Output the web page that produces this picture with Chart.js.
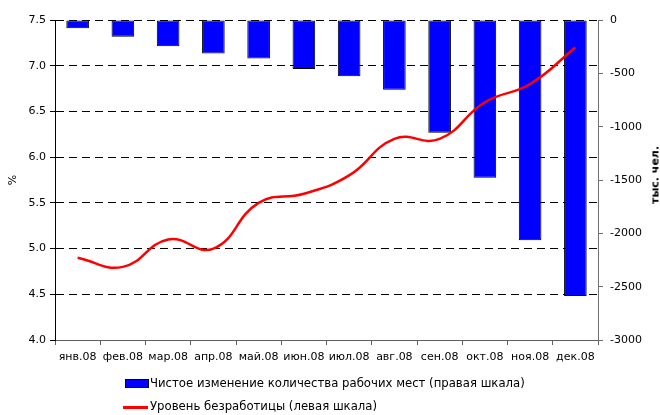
<!DOCTYPE html>
<html><head><meta charset="utf-8">
<script src="https://cdn.jsdelivr.net/npm/chart.js@4/dist/chart.umd.min.js"></script>
<style>
html,body{margin:0;padding:0;background:#fff;}
#wrap{position:relative;width:660px;height:415px;overflow:hidden;}
canvas{position:absolute;left:0;top:0;}
.txt{position:absolute;font-family:"DejaVu Sans",Arial,sans-serif;font-size:11px;color:#000;white-space:nowrap;line-height:13px;}
.lgt{font-size:11.7px;}
#ytitle2{font-weight:bold;left:655px;top:175px;transform:translate(-50%,-50%) rotate(-90deg);}
</style></head><body>
<div id="wrap">
<canvas id="c" width="660" height="415"></canvas>
<div id="ytitle2" class="txt">тыс. чел.</div>
<div id="legend"></div>
</div>
<script>
const categories = ['янв.08','фев.08','мар.08','апр.08','май.08','июн.08','июл.08','авг.08','сен.08','окт.08','ноя.08','дек.08'];
const unemploymentRate = [4.9, 4.8, 5.1, 5.0, 5.5, 5.6, 5.8, 6.2, 6.2, 6.6, 6.8, 7.2];
const netJobChange = [-77, -158, -247, -313, -360, -460, -527, -653, -1056, -1480, -2066, -2587];
const barLabel = 'Чистое изменение количества рабочих мест (правая шкала)';
const lineLabel = 'Уровень безработицы (левая шкала)';
const leftTitle = '%';
const leftTicks = {min: 4.0, max: 7.5, step: 0.5};
const rightTicks = {min: -3000, max: 0, step: 500};

const FONT = {family: '"DejaVu Sans", Arial, sans-serif', size: 11};

const chart = new Chart(document.getElementById('c'), {
  type: 'bar',
  data: {
    labels: categories,
    datasets: [
      {
        type: 'bar', label: barLabel, data: netJobChange, yAxisID: 'y1', order: 2,
        backgroundColor: '#0000FF', borderColor: '#000000', borderWidth: 1, borderSkipped: false,
        categoryPercentage: 1.0, barPercentage: 0.5
      },
      {
        type: 'line', label: lineLabel, data: unemploymentRate, yAxisID: 'y', order: 1,
        borderColor: '#FF0000', borderWidth: 2.5, pointRadius: 0, tension: 0.45, fill: false
      }
    ]
  },
  options: {
    responsive: false, animation: false,
    layout: {padding: {top: 20, left: 0, right: 0, bottom: 0}},
    plugins: {legend: {display: false}, tooltip: {enabled: false}},
    scales: {
      x: {
        position: 'bottom', offset: true,
        grid: {offset: true, drawOnChartArea: false, drawTicks: true, tickLength: 5, tickColor: '#606060', tickWidth: 1},
        border: {display: true, color: '#606060', width: 1},
        ticks: {font: FONT, color: '#000', padding: 6, maxRotation: 0, autoSkip: false},
        afterFit(s) { s.height = 75; }
      },
      y: {
        position: 'left', min: leftTicks.min, max: leftTicks.max,
        grid: {drawOnChartArea: true, color: '#000', lineWidth: 1, drawTicks: true, tickLength: 5, tickColor: '#000', tickBorderDash: []},
        border: {display: true, color: '#000', width: 1, dash: [8, 5]},
        ticks: {stepSize: leftTicks.step, font: FONT, color: '#000', padding: 4, callback: v => Number(v).toFixed(1)},
        title: {display: true, text: leftTitle, font: FONT, color: '#000', padding: {top: 7, bottom: 0}},
        afterFit(s) { s.width = 55; }
      },
      y1: {
        position: 'right', min: rightTicks.min, max: rightTicks.max,
        grid: {drawOnChartArea: false, drawTicks: true, tickLength: 5, tickColor: '#707070'},
        border: {display: true, color: '#707070', width: 1},
        ticks: {stepSize: rightTicks.step, font: FONT, color: '#000', padding: 7, callback: v => String(v)},
        afterFit(s) { s.width = 62; }
      }
    }
  }
});

// HTML legend built from the datasets
const lg = document.getElementById('legend');
chart.data.datasets.forEach((ds, i) => {
  const top = i === 0 ? 377 : 400;
  const sw = document.createElement('div');
  sw.style.position = 'absolute';
  if (ds.type === 'bar') {
    sw.style.left = '125px'; sw.style.top = (top + 2) + 'px';
    sw.style.width = '22px'; sw.style.height = '7px';
    sw.style.background = ds.backgroundColor; sw.style.border = '1px solid ' + ds.borderColor;
  } else {
    sw.style.left = '123px'; sw.style.top = (top + 6) + 'px';
    sw.style.width = '25px'; sw.style.height = '3px';
    sw.style.background = ds.borderColor;
  }
  lg.appendChild(sw);
  const t = document.createElement('div');
  t.className = 'txt lgt';
  t.style.left = '150px'; t.style.top = top + 'px';
  t.textContent = ds.label;
  lg.appendChild(t);
});
</script>
</body></html>
